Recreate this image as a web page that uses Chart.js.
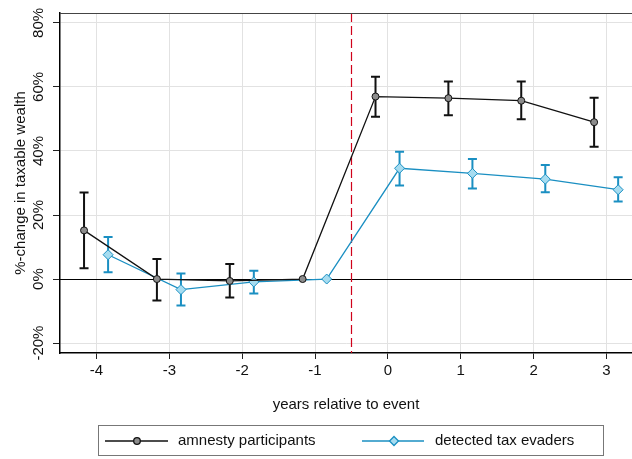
<!DOCTYPE html>
<html>
<head>
<meta charset="utf-8">
<script src="https://cdn.jsdelivr.net/npm/chart.js@4.4.1/dist/chart.umd.min.js"></script>
<style>
  html, body { margin: 0; padding: 0; background: #fff; overflow: hidden; }
  canvas { display: block; }
</style>
</head>
<body>
<canvas id="chart" width="632" height="459"></canvas>
<script>
// event years (x tick labels)
var years = [-4, -3, -2, -1, 0, 1, 2, 3];
var yTicks = [-20, 0, 20, 40, 60, 80];

// amnesty participants: estimate and 95% CI (percent)
var amnesty   = [15.2, 0.0, -0.6, 0.0, 57.0, 56.5, 55.7, 49.0];
var amnestyLo = [3.4, -6.7, -5.8, null, 50.7, 51.2, 49.9, 41.3];
var amnestyHi = [27.0, 6.3, 4.7, null, 63.2, 61.7, 61.7, 56.6];

// detected tax evaders
var evaders   = [7.6, -3.3, -0.9, 0.0, 34.6, 33.0, 31.2, 27.9];
var evadersLo = [2.1, -8.3, -4.5, null, 29.2, 28.3, 27.1, 24.2];
var evadersHi = [13.1, 1.7, 2.6, null, 39.8, 37.5, 35.6, 31.8];

// series are shifted a bit left/right of the year so bars don't overlap
var amnestyShift = -0.17;
var evadersShift = 0.16;
var eventLine = -0.5;

var blue = '#1a8fc2';
var font = 'Arial, "Liberation Sans", sans-serif';

function points(vals, shift) {
    return vals.map(function (v, i) { return { x: years[i] + shift, y: v }; });
}

var extras = {
    id: 'extras',
    beforeDatasetsDraw: function (chart) {
        var ctx = chart.ctx, xs = chart.scales.x, ys = chart.scales.y, a = chart.chartArea;
        ctx.save();
        // zero line
        ctx.strokeStyle = '#000';
        ctx.lineWidth = 1;
        ctx.beginPath();
        ctx.moveTo(a.left, Math.round(ys.getPixelForValue(0)) + 0.5);
        ctx.lineTo(a.right, Math.round(ys.getPixelForValue(0)) + 0.5);
        ctx.stroke();
        // event line
        var ex = Math.round(xs.getPixelForValue(eventLine)) + 0.5;
        ctx.strokeStyle = '#d0021b';
        ctx.lineWidth = 1.2;
        ctx.setLineDash([9, 4]);
        ctx.beginPath();
        ctx.moveTo(ex, a.top);
        ctx.lineTo(ex, a.bottom);
        ctx.stroke();
        ctx.setLineDash([]);
        // top frame line
        ctx.strokeStyle = '#444';
        ctx.lineWidth = 1;
        ctx.beginPath();
        ctx.moveTo(a.left, a.top + 0.5);
        ctx.lineTo(a.right, a.top + 0.5);
        ctx.stroke();
        // error bars
        function bars(lo, hi, shift, color) {
            ctx.strokeStyle = color;
            ctx.lineWidth = 2;
            lo.forEach(function (l, i) {
                if (l === null) return;
                var x = xs.getPixelForValue(years[i] + shift);
                var y1 = ys.getPixelForValue(l), y2 = ys.getPixelForValue(hi[i]);
                ctx.beginPath();
                ctx.moveTo(x, y1); ctx.lineTo(x, y2);
                ctx.moveTo(x - 4.5, y1); ctx.lineTo(x + 4.5, y1);
                ctx.moveTo(x - 4.5, y2); ctx.lineTo(x + 4.5, y2);
                ctx.stroke();
            });
        }
        bars(amnestyLo, amnestyHi, amnestyShift, '#111');
        bars(evadersLo, evadersHi, evadersShift, blue);
        ctx.restore();
    },
    afterDraw: function (chart) {
        var ctx = chart.ctx, ys = chart.scales.y;
        ctx.save();
        // rotated y tick labels
        ctx.fillStyle = '#111';
        ctx.font = '15px ' + font;
        ctx.textAlign = 'center';
        ctx.textBaseline = 'middle';
        yTicks.forEach(function (t) {
            ctx.save();
            ctx.translate(39, ys.getPixelForValue(t));
            ctx.rotate(-Math.PI / 2);
            ctx.fillText(t + '%', 0, 0);
            ctx.restore();
        });
        // legend box
        ctx.strokeStyle = '#777';
        ctx.lineWidth = 1;
        ctx.strokeRect(98.5, 425.5, 505, 30);
        var ly = 441;
        ctx.textAlign = 'left';
        ctx.fillStyle = '#111';
        ctx.fillText('amnesty participants', 178, ly);
        ctx.fillText('detected tax evaders', 435, ly);
        ctx.lineWidth = 1.3;
        ctx.strokeStyle = '#111';
        ctx.beginPath(); ctx.moveTo(105, ly); ctx.lineTo(168, ly); ctx.stroke();
        ctx.fillStyle = '#8c8c8c';
        ctx.beginPath(); ctx.arc(137, ly, 3.3, 0, Math.PI * 2); ctx.fill(); ctx.stroke();
        ctx.strokeStyle = blue;
        ctx.beginPath(); ctx.moveTo(362, ly); ctx.lineTo(424, ly); ctx.stroke();
        ctx.fillStyle = '#a6dcf0';
        ctx.beginPath();
        ctx.moveTo(394, ly - 4.5); ctx.lineTo(398.5, ly); ctx.lineTo(394, ly + 4.5); ctx.lineTo(389.5, ly);
        ctx.closePath(); ctx.fill(); ctx.stroke();
        ctx.restore();
    }
};

var ctx = document.querySelector('#chart').getContext('2d');
var chart = new Chart(ctx, {
    type: 'scatter',
    data: {
        datasets: [{
            label: 'amnesty participants',
            data: points(amnesty, amnestyShift),
            showLine: true,
            borderColor: '#111',
            borderWidth: 1.3,
            pointBackgroundColor: '#8c8c8c',
            pointBorderColor: '#111',
            pointBorderWidth: 1,
            pointRadius: 3.5,
            pointStyle: 'circle'
        }, {
            label: 'detected tax evaders',
            data: points(evaders, evadersShift),
            showLine: true,
            borderColor: blue,
            borderWidth: 1.3,
            pointBackgroundColor: '#a6dcf0',
            pointBorderColor: blue,
            pointBorderWidth: 1,
            pointRadius: 5,
            pointStyle: 'rectRot'
        }]
    },
    options: {
        responsive: false,
        devicePixelRatio: 1,
        animation: false,
        layout: { autoPadding: false, padding: { top: 13, left: 0, right: 0, bottom: 0 } },
        plugins: {
            legend: { display: false },
            tooltip: { enabled: false }
        },
        scales: {
            x: {
                type: 'linear',
                min: -4.5,
                max: 3.35,
                afterBuildTicks: function (s) { s.ticks = years.map(function (v) { return { value: v }; }); },
                afterFit: function (s) { s.height = 106; s.paddingLeft = 0; s.paddingRight = 0; },
                grid: { color: '#e2e2e2', tickColor: '#222', tickLength: 6 },
                border: { color: '#000', width: 1.5 },
                ticks: { color: '#111', font: { size: 15, family: font }, padding: 3, maxRotation: 0 },
                title: {
                    display: true,
                    text: 'years relative to event',
                    color: '#111',
                    font: { size: 15, family: font },
                    padding: { top: 0, bottom: 45 }
                }
            },
            y: {
                min: -23.1,
                max: 83.1,
                afterBuildTicks: function (s) { s.ticks = yTicks.map(function (v) { return { value: v }; }); },
                afterFit: function (s) { s.width = 60; s.paddingTop = 0; s.paddingBottom = 0; },
                grid: { color: '#e2e2e2', tickColor: '#222', tickLength: 7 },
                border: { color: '#000', width: 1.5 },
                ticks: { display: false },
                title: {
                    display: true,
                    text: '%-change in taxable wealth',
                    color: '#111',
                    font: { size: 15, family: font },
                    padding: { top: 12, bottom: 0 }
                }
            }
        }
    },
    plugins: [extras]
});
</script>
</body>
</html>
